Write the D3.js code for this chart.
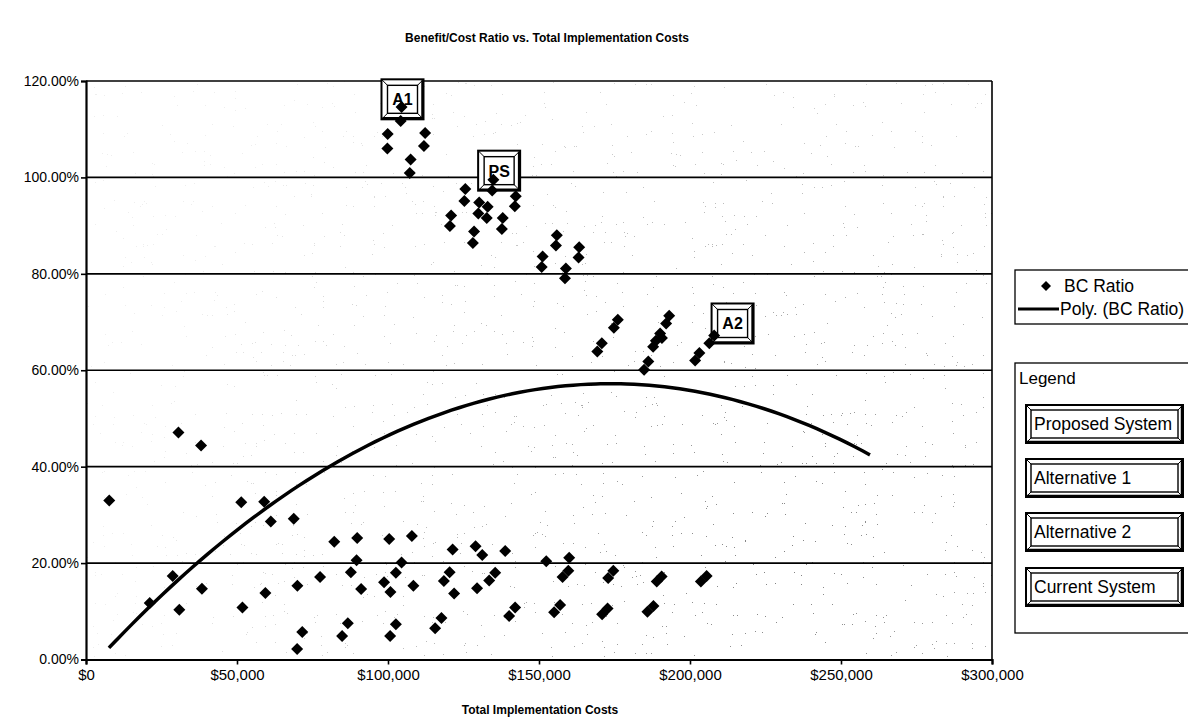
<!DOCTYPE html>
<html>
<head>
<meta charset="utf-8">
<script src="https://cdn.jsdelivr.net/npm/d3@7"></script>
<style>
  body { margin: 0; background: #fff; }
  text { font-family: Arial, "Liberation Sans", sans-serif; fill: #000; }
</style>
</head>
<body>
<div id="chart"></div>
<script>
// total implementation cost ($) and benefit/cost ratio
const costs = [
  104500, 104200, 99900, 99800, 112300, 111900, 107500, 107200,
  134900, 134500, 125600, 125300, 130200, 133000, 129900, 132700, 120900, 120500,
  142300, 142000, 138000, 137700, 128500, 128100,
  155900, 155600, 163300, 163100, 151200, 150900, 158900, 158600,
  176100, 174800, 170800, 169300, 193100, 192100, 190100, 188700, 187800, 190700,
  186200, 184800, 208000, 206400, 203100, 201700,
  30600, 38100, 7700, 51400, 59000, 61200, 68800, 28700, 21100, 30900, 38400,
  51800, 59400, 70000, 77500, 71600, 69900, 82200, 89800, 89600, 87700, 91100,
  86700, 84800, 100400, 107900, 104500, 102600, 98700, 100800, 108400, 102600,
  100700, 121400, 129000, 131200, 138800, 120400, 118500, 121900, 135500, 133500,
  129500, 117700, 115600, 142100, 140100, 152400, 160000, 159700, 157800, 174600,
  172900, 190600, 189000, 205500, 203600, 157000, 155000, 172700, 170900, 187900,
  185900
];
const bcRatio = [
  1.146, 1.117, 1.090, 1.060, 1.092, 1.065, 1.037, 1.009,
  0.995, 0.973, 0.976, 0.951, 0.948, 0.939, 0.925, 0.916, 0.921, 0.899,
  0.961, 0.940, 0.916, 0.893, 0.888, 0.864,
  0.880, 0.859, 0.855, 0.834, 0.836, 0.814, 0.811, 0.791,
  0.705, 0.688, 0.656, 0.639, 0.713, 0.697, 0.676, 0.661, 0.649, 0.667,
  0.618, 0.601, 0.672, 0.656, 0.636, 0.620,
  0.471, 0.444, 0.330, 0.326, 0.327, 0.286, 0.292, 0.173, 0.117, 0.103, 0.147,
  0.108, 0.138, 0.153, 0.171, 0.057, 0.022, 0.244, 0.252, 0.206, 0.181, 0.146,
  0.075, 0.049, 0.250, 0.256, 0.201, 0.180, 0.160, 0.140, 0.153, 0.073,
  0.049, 0.228, 0.235, 0.217, 0.225, 0.181, 0.163, 0.137, 0.180, 0.164,
  0.148, 0.086, 0.065, 0.108, 0.090, 0.204, 0.211, 0.184, 0.171, 0.184,
  0.169, 0.172, 0.162, 0.173, 0.162, 0.113, 0.098, 0.106, 0.094, 0.111,
  0.099
];

// second order polynomial trendline: y = c0 + c1*x + c2*x^2
const trendCoef = [-0.0273, 6.909e-6, -1.991e-11];
const trendRange = [7600, 259600];

// labelled systems on the chart
const calloutLabels = ["A1", "PS", "A2"];
const calloutCost = [104800, 136800, 214100];
const calloutRatio = [1.162, 1.014, 0.697];

const xTicks = [0, 50000, 100000, 150000, 200000, 250000, 300000];
const yTicks = [0, 0.2, 0.4, 0.6, 0.8, 1.0, 1.2];
const legendButtons = ["Proposed System", "Alternative 1", "Alternative 2", "Current System"];

const W = 1188, H = 719;
const svg = d3.select("#chart").append("svg")
  .attr("width", W).attr("height", H);

const x = d3.scaleLinear().domain([0, 300000]).range([86, 992]);
const y = d3.scaleLinear().domain([0, 1.2]).range([659.5, 81]);

// sparse speckle of the scanned grey fill behind the plot
const defs = svg.append("defs");
const f = defs.append("filter").attr("id", "speck")
  .attr("x", 0).attr("y", 0).attr("width", "100%").attr("height", "100%");
f.append("feTurbulence").attr("type", "fractalNoise").attr("baseFrequency", 0.9)
  .attr("numOctaves", 2).attr("seed", 5);
f.append("feColorMatrix").attr("type", "matrix")
  .attr("values", "0 0 0 0 0  0 0 0 0 0  0 0 0 0 0  1 0 0 0 0");
f.append("feComponentTransfer").append("feFuncA").attr("type", "discrete")
  .attr("tableValues", "0 0 0 0 0 0 0 0 0 0 0 0 0 0 0 0 0.5 0.5 0.5 0.5");
const rg = defs.append("radialGradient").attr("id", "dens")
  .attr("gradientUnits", "userSpaceOnUse")
  .attr("cx", 780).attr("cy", 560).attr("r", 650);
rg.append("stop").attr("offset", "0%").attr("stop-color", "#fff");
rg.append("stop").attr("offset", "100%").attr("stop-color", "#222");
defs.append("mask").attr("id", "densMask")
  .append("rect").attr("x", x(0)).attr("y", y(1.2))
  .attr("width", x(300000) - x(0)).attr("height", y(0) - y(1.2))
  .attr("fill", "url(#dens)");

svg.append("g").attr("mask", "url(#densMask)")
  .append("rect")
  .attr("x", x(0)).attr("y", y(1.2))
  .attr("width", x(300000) - x(0)).attr("height", y(0) - y(1.2))
  .attr("fill", "#000")
  .attr("filter", "url(#speck)");

// title
svg.append("text")
  .attr("x", 547).attr("y", 42)
  .attr("text-anchor", "middle")
  .style("font-size", "12px").style("font-weight", "bold")
  .text("Benefit/Cost Ratio vs. Total Implementation Costs");

// gridlines and plot frame
svg.append("g").selectAll("line")
  .data(yTicks.slice(1))
  .enter().append("line")
  .attr("x1", x(0)).attr("x2", x(300000))
  .attr("y1", d => y(d)).attr("y2", d => y(d))
  .attr("stroke", "#000").attr("stroke-width", 1.6);
svg.append("line")
  .attr("x1", x(300000)).attr("x2", x(300000))
  .attr("y1", y(1.2)).attr("y2", y(0))
  .attr("stroke", "#000").attr("stroke-width", 1.6);

// axes
const yAxis = d3.axisLeft(y).tickValues(yTicks)
  .tickFormat(d3.format(".2%")).tickSize(5).tickPadding(2);
const yG = svg.append("g").attr("transform", `translate(${x(0)},0)`).call(yAxis);
yG.select(".domain").attr("stroke-width", 2.2);
yG.selectAll("line").attr("stroke-width", 1.6);
yG.selectAll("text").style("font-size", "14px").style("font-family", "Arial, 'Liberation Sans', sans-serif");

const xAxis = d3.axisBottom(x).tickValues(xTicks)
  .tickFormat(d3.format("$,")).tickSize(5).tickPadding(5);
const xG = svg.append("g").attr("transform", `translate(0,${y(0)})`).call(xAxis);
xG.select(".domain").attr("stroke-width", 2.2);
xG.selectAll("line").attr("stroke-width", 1.6);
xG.selectAll("text").style("font-size", "15px").style("font-family", "Arial, 'Liberation Sans', sans-serif");

svg.append("text")
  .attr("x", 540).attr("y", 714)
  .attr("text-anchor", "middle")
  .style("font-size", "12px").style("font-weight", "bold")
  .text("Total Implementation Costs");

// trendline
const trend = d3.range(0, 101).map(i => {
  const c = trendRange[0] + (trendRange[1] - trendRange[0]) * i / 100;
  return [c, trendCoef[0] + trendCoef[1] * c + trendCoef[2] * c * c];
});
svg.append("path")
  .datum(trend)
  .attr("fill", "none").attr("stroke", "#000").attr("stroke-width", 3.5)
  .attr("d", d3.line().x(d => x(d[0])).y(d => y(d[1])).curve(d3.curveBasis));

// beveled box helper
function bevel(g, x0, y0, w, h, inset) {
  g.append("rect").attr("x", x0).attr("y", y0).attr("width", w).attr("height", h)
    .attr("fill", "#fff").attr("stroke", "#000").attr("stroke-width", 2);
  g.append("rect").attr("x", x0 + inset).attr("y", y0 + inset)
    .attr("width", w - 2 * inset).attr("height", h - 2 * inset)
    .attr("fill", "none").attr("stroke", "#000").attr("stroke-width", 1.4);
  const c = [[x0, y0, x0 + inset, y0 + inset], [x0 + w, y0, x0 + w - inset, y0 + inset],
             [x0, y0 + h, x0 + inset, y0 + h - inset], [x0 + w, y0 + h, x0 + w - inset, y0 + h - inset]];
  c.forEach(p => g.append("line").attr("x1", p[0]).attr("y1", p[1]).attr("x2", p[2]).attr("y2", p[3])
    .attr("stroke", "#000").attr("stroke-width", 1));
  g.append("line").attr("x1", x0 + 1).attr("x2", x0 + w).attr("y1", y0 + h - 1).attr("y2", y0 + h - 1)
    .attr("stroke", "#000").attr("stroke-width", 2.5);
  g.append("line").attr("x1", x0 + w - 1).attr("x2", x0 + w - 1).attr("y1", y0 + 1).attr("y2", y0 + h)
    .attr("stroke", "#000").attr("stroke-width", 2.5);
}

// callout boxes
const calloutG = svg.append("g");
calloutLabels.forEach((lab, i) => {
  const cx = x(calloutCost[i]), cy = y(calloutRatio[i]);
  const g = calloutG.append("g");
  bevel(g, cx - 21, cy - 20, 42, 40, 6);
  g.append("text").attr("x", cx).attr("y", cy + 6)
    .attr("text-anchor", "middle")
    .style("font-size", "16px").style("font-weight", "bold")
    .text(lab);
});

// data points
const diamond = "M0,-6L6,0L0,6L-6,0Z";
svg.append("g").selectAll("path")
  .data(costs.map((c, i) => [c, bcRatio[i]]))
  .enter().append("path")
  .attr("d", diamond)
  .attr("transform", d => `translate(${x(d[0])},${y(d[1])})`)
  .attr("fill", "#000");

// series legend
const lg = svg.append("g");
lg.append("rect").attr("x", 1015).attr("y", 270).attr("width", 185).attr("height", 54)
  .attr("fill", "#fff").attr("stroke", "#000").attr("stroke-width", 1.3);
lg.append("path").attr("d", "M0,-5L5,0L0,5L-5,0Z").attr("transform", "translate(1046,286)");
lg.append("text").attr("x", 1064).attr("y", 292).style("font-size", "17.5px").text("BC Ratio");
lg.append("line").attr("x1", 1018).attr("x2", 1059).attr("y1", 309).attr("y2", 309)
  .attr("stroke", "#000").attr("stroke-width", 3);
lg.append("text").attr("x", 1060).attr("y", 315).style("font-size", "17.5px").text("Poly. (BC Ratio)");

// system legend
const sg = svg.append("g");
sg.append("rect").attr("x", 1015).attr("y", 363).attr("width", 185).attr("height", 270)
  .attr("fill", "#fff").attr("stroke", "#000").attr("stroke-width", 1.3);
sg.append("text").attr("x", 1019).attr("y", 384).style("font-size", "17px").text("Legend");
const btnTop = [405, 459, 513, 568];
legendButtons.forEach((lab, i) => {
  const g = sg.append("g");
  bevel(g, 1026, btnTop[i], 157, 38, 5);
  g.append("text").attr("x", 1034).attr("y", btnTop[i] + 25)
    .style("font-size", "17.5px").text(lab);
});
</script>
</body>
</html>
